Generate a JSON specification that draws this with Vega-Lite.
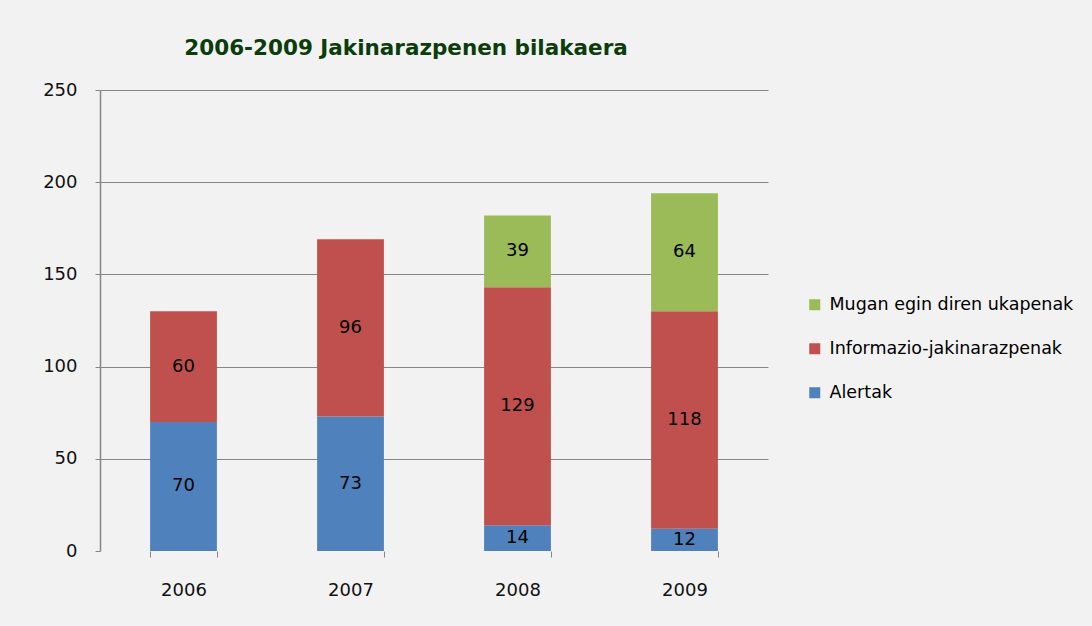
{
  "$schema": "https://vega.github.io/schema/vega-lite/v6.json",
  "autosize": {"type": "none"},
  "width": 668,
  "height": 461,
  "padding": {"left": 100, "top": 90, "right": 324, "bottom": 75},
  "background": "#f2f2f2",
  "title": {
    "text": "2006-2009 Jakinarazpenen bilakaera",
    "font": "DejaVu Sans",
    "fontSize": 21.5,
    "fontWeight": "bold",
    "color": "#0b3d0b",
    "anchor": "middle",
    "dx": -28,
    "offset": 22
  },
  "data": {
    "values": [
      {"year": "2006", "series": "Alertak", "value": 70},
      {"year": "2006", "series": "Informazio-jakinarazpenak", "value": 60},
      {"year": "2007", "series": "Alertak", "value": 73},
      {"year": "2007", "series": "Informazio-jakinarazpenak", "value": 96},
      {"year": "2008", "series": "Alertak", "value": 14},
      {"year": "2008", "series": "Informazio-jakinarazpenak", "value": 129},
      {"year": "2008", "series": "Mugan egin diren ukapenak", "value": 39},
      {"year": "2009", "series": "Alertak", "value": 12},
      {"year": "2009", "series": "Informazio-jakinarazpenak", "value": 118},
      {"year": "2009", "series": "Mugan egin diren ukapenak", "value": 64}
    ]
  },
  "config": {
    "font": "DejaVu Sans",
    "view": {"stroke": null},
    "axis": {"labelFont": "DejaVu Sans", "labelColor": "#111111", "labelFontSize": 18}
  },
  "encoding": {
    "x": {
      "field": "year",
      "type": "nominal",
      "scale": {"paddingInner": 0.6, "paddingOuter": 0.3},
      "axis": {
        "title": null,
        "labelAngle": 0,
        "domain": false,
        "tickBand": "extent",
        "tickColor": "#868686",
        "tickSize": 6,
        "labelPadding": 24
      }
    },
    "y": {
      "field": "value",
      "type": "quantitative",
      "stack": "zero",
      "scale": {"domain": [0, 250], "nice": false},
      "axis": {
        "title": null,
        "values": [0, 50, 100, 150, 200, 250],
        "domainColor": "#868686",
        "domainWidth": 1.5,
        "tickColor": "#868686",
        "tickSize": 5,
        "labelPadding": 18,
        "gridColor": {"condition": {"test": "datum.value === 0", "value": "transparent"}, "value": "#868686"},
        "gridWidth": 1
      }
    },
    "order": {"field": "series", "sort": "ascending"}
  },
  "layer": [
    {
      "mark": {"type": "bar"},
      "encoding": {
        "color": {
          "field": "series",
          "type": "nominal",
          "sort": "descending",
          "scale": {
            "domain": ["Mugan egin diren ukapenak", "Informazio-jakinarazpenak", "Alertak"],
            "range": ["#9bbb59", "#c0504d", "#4f81bd"]
          },
          "legend": {
            "title": null,
            "orient": "none",
            "legendX": 706,
            "legendY": 206,
            "symbolType": "square",
            "symbolSize": 121,
            "symbolStrokeWidth": 0,
            "labelFontSize": 17.5,
            "labelColor": "#000000",
            "labelFont": "DejaVu Sans",
            "labelLimit": 0,
            "rowPadding": 25,
            "labelOffset": 6,
            "padding": 0
          }
        }
      }
    },
    {
      "mark": {"type": "text", "fontSize": 18, "color": "#000000", "font": "DejaVu Sans"},
      "encoding": {
        "y": {"field": "value", "type": "quantitative", "stack": "zero", "bandPosition": 0.5},
        "text": {"field": "value", "type": "quantitative"}
      }
    }
  ]
}
